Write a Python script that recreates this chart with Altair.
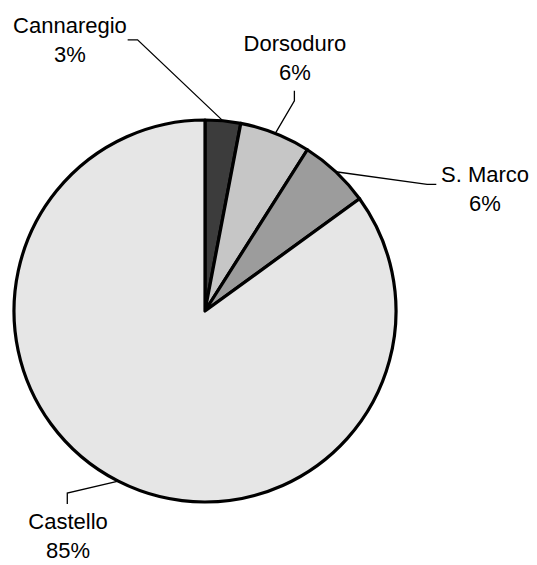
import altair as alt
import pandas as pd
import numpy as np

# ---- data ----
districts = ["Cannaregio", "Dorsoduro", "S. Marco", "Castello"]
shares = [3, 6, 6, 85]
fills = ["#3c3c3c", "#c6c6c6", "#9c9c9c", "#e6e6e6"]

# ---- layout (plot-area pixels, pie geometry) ----
W, H = 521, 557
CX, CY, R = 197, 303, 191
FONT = "Liberation Sans"

# label layout in pie-radius units (x right, y up), relative to pie centre
# (position of the first text line)
label_text_pos = {
    "Cannaregio": (-0.707, 1.49),
    "Dorsoduro": (0.471, 1.40),
    "S. Marco": (1.466, 0.712),
    "Castello": (-0.717, -1.105),
}
label_leader = {
    "Cannaregio": [(-0.405, 1.42), (-0.353, 1.42)],
    "Dorsoduro": [(0.468, 1.153), (0.468, 1.10)],
    "S. Marco": [(1.211, 0.663), (1.163, 0.663)],
    "Castello": [(-0.721, -1.010), (-0.721, -0.953)],
}

total = float(sum(shares))
cum = np.cumsum([0] + shares)
pie = pd.DataFrame({
    "district": districts,
    "share": shares,
    "idx": list(range(len(districts))),
})

# leader lines: start near label, elbow, then slice edge at mid-angle
rows = []
for i, d in enumerate(districts):
    mid = (cum[i] + cum[i + 1]) / 2 / total * 2 * np.pi
    ex, ey = np.sin(mid) * 1.0, np.cos(mid) * 1.0
    pts = label_leader[d] + [(ex, ey)]
    for k, (px, py) in enumerate(pts):
        rows.append({"district": d, "k": k, "x": px, "y": py})
leaders = pd.DataFrame(rows)

labels = pd.DataFrame({
    "district": districts,
    "label": [f"{d}\n{round(s / total * 100)}%" for d, s in zip(districts, shares)],
    "x": [label_text_pos[d][0] for d in districts],
    "y": [label_text_pos[d][1] for d in districts],
})

xscale = alt.Scale(domain=[(0 - CX) / R, (W - CX) / R], range=[0, W], nice=False, zero=False)
yscale = alt.Scale(domain=[(CY - H) / R, CY / R], range=[H, 0], nice=False, zero=False)

arcs = alt.Chart(pie).mark_arc(
    outerRadius=R, stroke="black", strokeWidth=3.2, strokeJoin="round"
).encode(
    theta=alt.Theta("share:Q", stack=True),
    order=alt.Order("idx:Q"),
    color=alt.Color("district:N", scale=alt.Scale(domain=districts, range=fills), legend=None),
    x=alt.datum(0, type="quantitative", scale=xscale, axis=None),
    y=alt.datum(0, type="quantitative", scale=yscale, axis=None),
)

lines = alt.Chart(leaders).mark_line(color="black", strokeWidth=1.3).encode(
    x=alt.X("x:Q", scale=xscale, axis=None),
    y=alt.Y("y:Q", scale=yscale, axis=None),
    detail="district:N",
    order="k:Q",
)

texts = alt.Chart(labels).mark_text(
    font=FONT, fontSize=22, lineBreak="\n", lineHeight=29,
    align="center", baseline="middle", color="black",
).encode(
    x=alt.X("x:Q", scale=xscale, axis=None),
    y=alt.Y("y:Q", scale=yscale, axis=None),
    text="label:N",
)

chart = alt.layer(arcs, lines, texts).properties(
    width=W, height=H, padding=0, autosize="none"
).configure_view(stroke=None)

chart.save("out.html", embed_options={"renderer": "svg", "actions": False})
